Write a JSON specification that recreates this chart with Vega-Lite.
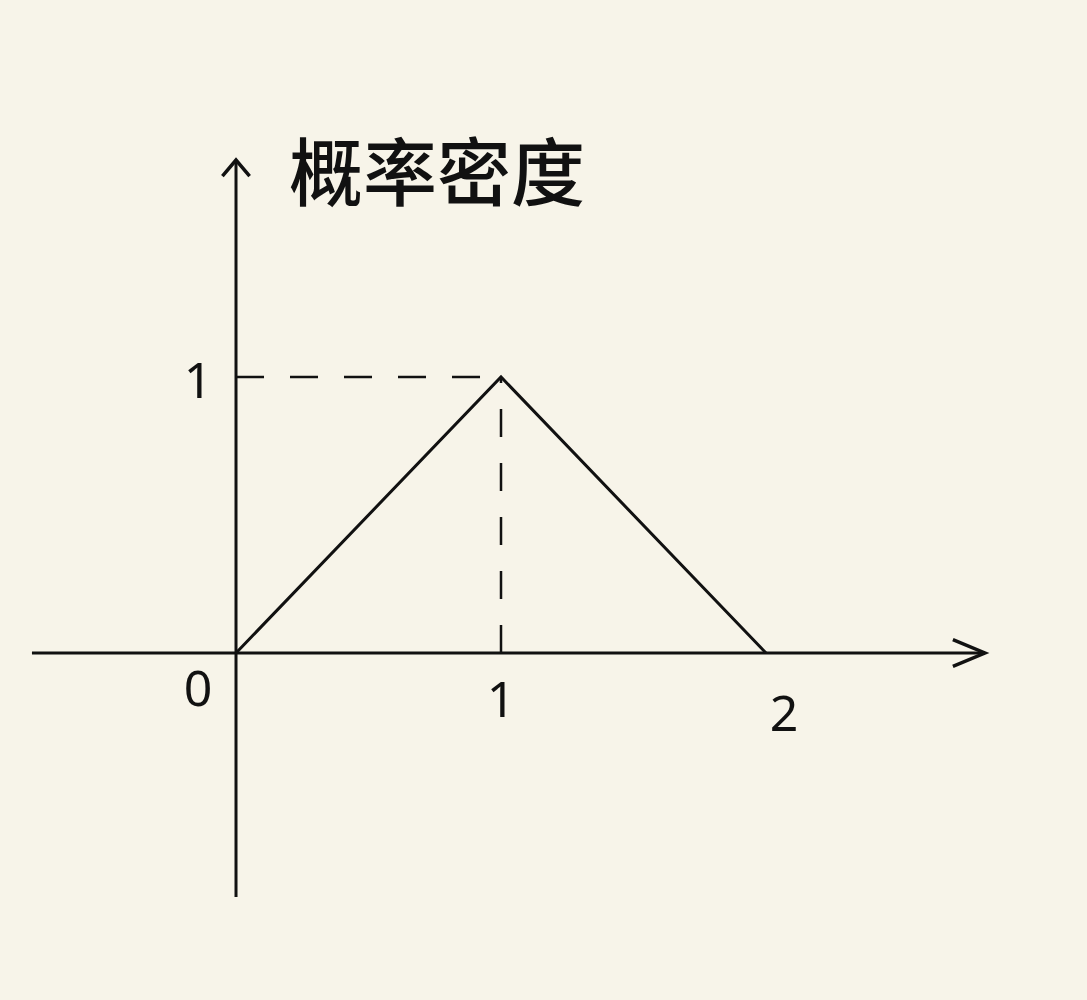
{
  "$schema": "https://vega.github.io/schema/vega-lite/v6.json",
  "width": 1087,
  "height": 1000,
  "autosize": {"type": "fit", "contains": "padding"},
  "padding": 0,
  "background": "#F7F4E9",
  "config": {"view": {"stroke": null}},
  "datasets": {
    "density": [{"x": 0, "y": 0}, {"x": 1, "y": 1}, {"x": 2, "y": 0}],
    "guides": [
      {"seg": "h", "x": 0, "y": 1},
      {"seg": "h", "x": 1, "y": 1},
      {"seg": "v", "x": 1, "y": 1},
      {"seg": "v", "x": 1, "y": 0}
    ],
    "axes": [
      {"axis": "x", "x": -0.77, "y": 0, "x2": 2.826, "y2": 0},
      {"axis": "y", "x": 0, "y": -0.884, "x2": 0, "y2": 1.786}
    ],
    "arrows": [
      {"axis": "x", "x": 2.826, "y": 0},
      {"axis": "y", "x": 0, "y": 1.786}
    ],
    "ticklabels": [
      {"label": "0", "x": -0.143, "y": -0.138},
      {"label": "1", "x": 1.0, "y": -0.178},
      {"label": "2", "x": 2.068, "y": -0.228},
      {"label": "1", "x": -0.143, "y": 0.978}
    ],
    "title": [{"label": "概率密度", "x": 0.758, "y": 1.721}]
  },
  "encoding": {
    "x": {"field": "x", "type": "quantitative", "scale": {"domain": [-0.8906, 3.2113], "nice": false, "zero": false}, "axis": null},
    "y": {"field": "y", "type": "quantitative", "scale": {"domain": [-1.2572, 2.3659], "nice": false, "zero": false}, "axis": null}
  },
  "layer": [
    {
      "data": {"name": "axes"},
      "mark": {"type": "rule", "stroke": "#111111", "strokeWidth": 3},
      "encoding": {"x2": {"field": "x2"}, "y2": {"field": "y2"}}
    },
    {
      "data": {"name": "guides"},
      "mark": {"type": "line", "stroke": "#111111", "strokeWidth": 2.5, "strokeDash": [28, 26]},
      "encoding": {"detail": {"field": "seg"}, "order": {"field": "y"}}
    },
    {
      "data": {"name": "density"},
      "mark": {"type": "line", "stroke": "#111111", "strokeWidth": 3},
      "encoding": {"order": {"field": "x"}}
    },
    {
      "data": {"name": "arrows"},
      "transform": [{"filter": "datum.axis === 'x'"}],
      "mark": {"type": "point", "shape": "M-1,-0.42L0,0L-1,0.42", "filled": false, "stroke": "#111111", "strokeWidth": 3.5, "size": 4096, "opacity": 1}
    },
    {
      "data": {"name": "arrows"},
      "transform": [{"filter": "datum.axis === 'y'"}],
      "mark": {"type": "point", "shape": "M-0.85,1L0,0L0.85,1", "filled": false, "stroke": "#111111", "strokeWidth": 3.5, "size": 1024, "opacity": 1}
    },
    {
      "data": {"name": "ticklabels"},
      "mark": {"type": "text", "font": "Noto Sans", "fontSize": 50, "fill": "#111111", "align": "center", "baseline": "middle"},
      "encoding": {"text": {"field": "label"}}
    },
    {
      "data": {"name": "title"},
      "mark": {"type": "text", "font": "Noto Sans CJK SC", "fontSize": 74, "fontWeight": 500, "fill": "#111111", "align": "center", "baseline": "middle"},
      "encoding": {"text": {"field": "label"}}
    }
  ]
}
